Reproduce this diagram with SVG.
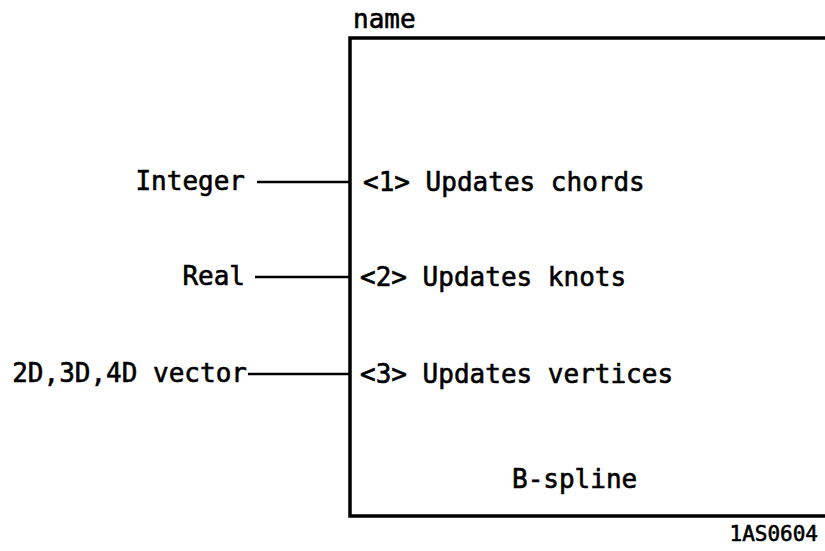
<svg xmlns="http://www.w3.org/2000/svg" width="825" height="551" viewBox="0 0 825 551">
<style>
text{font-family:"DejaVu Sans Mono","Liberation Mono",monospace;font-size:26px;fill:#000;stroke:#000;stroke-width:0.6}
.lbl{text-anchor:end}
.box{fill:none;stroke:#000;stroke-width:3.5}
.con{stroke:#000;stroke-width:2.5;fill:none}
</style>
<rect width="825" height="551" fill="#fff"/>
<g id="bspline">
<path class="box" d="M830,38 H350 V516 H830"/>
<text x="353" y="28">name</text>
<text x="363" y="191">&lt;1&gt; Updates chords</text>
<text x="360" y="286">&lt;2&gt; Updates knots</text>
<text x="360" y="383">&lt;3&gt; Updates vertices</text>
<text x="512" y="488">B-spline</text>
</g>
<g id="integer"><text class="lbl" x="245" y="190">Integer</text></g>
<g id="real"><text class="lbl" x="245" y="285">Real</text></g>
<g id="vector"><text class="lbl" x="247" y="382">2D,3D,4D vector</text></g>
<g id="connectors">
<line class="con" x1="257" y1="182" x2="350" y2="182"/>
<line class="con" x1="255" y1="277" x2="350" y2="277"/>
<line class="con" x1="248" y1="374" x2="350" y2="374"/>
</g>
<text x="818" y="541" style="font-size:21px;text-anchor:end">1AS0604</text>
</svg>
